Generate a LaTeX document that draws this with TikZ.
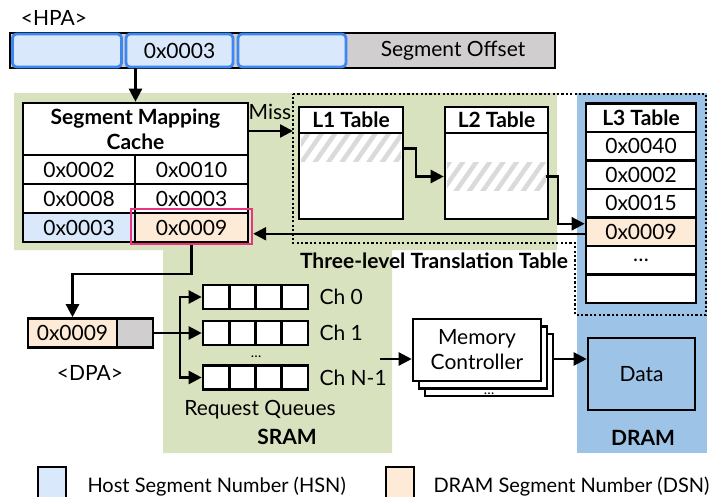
\documentclass[tikz,border=0pt]{standalone}
\usepackage{fontspec}
\setmainfont{Lato}
\usetikzlibrary{arrows.meta,patterns.meta,calc}

\definecolor{hsnfill}{HTML}{DAE8FC}
\definecolor{hsnedge}{HTML}{3C87F0}
\definecolor{dsnfill}{HTML}{FDEBD8}
\definecolor{sramgreen}{HTML}{D9E2BE}
\definecolor{dramblue}{HTML}{9DC3E6}
\definecolor{offsetgray}{HTML}{D0CECE}
\definecolor{hitpink}{HTML}{E8357D}
\definecolor{hatchgray}{HTML}{DADADA}

\begin{document}
\begin{tikzpicture}[x=1pt,y=-1pt,
  font=\fontsize{21}{25}\selectfont,
  cell/.style={draw, line width=2.6pt, fill=white, inner sep=0pt},
  hpaseg/.style={cell, draw=hsnedge, fill=hsnfill, rounded corners=4pt, line width=2.8pt},
  hsn/.style={fill=hsnfill},
  dsn/.style={fill=dsnfill},
  hdr/.style={font=\bfseries\fontsize{21}{25}\selectfont},
  hatch/.style={inner sep=0pt, pattern={Lines[angle=55,distance=11pt,line width=4.5pt]}, pattern color=hatchgray},
  hitbox/.style={draw=hitpink, line width=2.4pt, inner sep=0pt},
  arr/.style={line width=2.4pt, -{Triangle[length=13pt,width=13pt]}},
  link/.style={line width=2.4pt},
  lbl/.style={inner sep=0pt},
  leglbl/.style={inner sep=0pt, anchor=west, font=\fontsize{20}{24}\selectfont},
  region/.style={inner sep=0pt, font=\bfseries\fontsize{21}{25}\selectfont},
  tlt/.style={line width=2.4pt, dash pattern=on 2.2pt off 2.2pt},
  small/.style={inner sep=0pt, font=\fontsize{14}{16}\selectfont}]
\clip (0,0) rectangle (711,497);

% SRAM and DRAM areas
\fill[sramgreen] (14,93) -- (557,93) -- (557,250) -- (392,250) -- (392,453)
  -- (163,453) -- (163,250) -- (14,250) -- cycle;
\fill[dramblue] (577,93) rectangle (707,453);
% outline of the three-level translation table
\draw[tlt] (293,94) -- (706,94) -- (706,315) -- (575,315) -- (575,243) -- (293,243) -- cycle;
\node[region] (tltlbl) at (434,261) {Three-level Translation Table};

% host physical address
\node[lbl] (hpalbl) at (54,18) {<HPA>};
\node[cell, fill=offsetgray, minimum width=545pt, minimum height=35pt] (hpabar) at (282.5,50.5) {};
\node[lbl] (offsetlbl) at (453,50.5) {Segment Offset};
\node[hpaseg, minimum width=109pt, minimum height=33pt] (hpa1) at (67,50.5) {};
\node[hpaseg, minimum width=107pt, minimum height=33pt] (hpa2) at (179.5,50.5) {0x0003};
\node[hpaseg, minimum width=108pt, minimum height=33pt] (hpa3) at (292,50.5) {};

% segment mapping cache
\node[cell, hdr, align=center, minimum width=225pt, minimum height=52pt] (smc) at (135.5,129) {Segment Mapping\\Cache};
\node[cell, minimum width=112pt, minimum height=29pt] (s1k) at (79,169.5) {0x0002};
\node[cell, minimum width=113pt, minimum height=29pt] (s1v) at (191.5,169.5) {0x0010};
\node[cell, minimum width=112pt, minimum height=29pt] (s2k) at (79,198.5) {0x0008};
\node[cell, minimum width=113pt, minimum height=29pt] (s2v) at (191.5,198.5) {0x0003};
\node[cell, hsn, minimum width=112pt, minimum height=29pt] (s3k) at (79,227.5) {0x0003};
\node[cell, dsn, minimum width=113pt, minimum height=29pt] (s3v) at (191.5,227.5) {0x0009};
\node[hitbox, minimum width=121pt, minimum height=35pt] (hit) at (191.5,226.5) {};

\draw[arr] (smc.north |- hpa2.south) -- (smc.north);

% miss path into the translation table
\coordinate (ttlin) at (293,131);
\draw[arr] (smc.east |- ttlin) -- (ttlin);
\node[lbl] (misslbl) at (270,112) {Miss};

% L1 table
\node[cell, minimum width=104pt, minimum height=86pt] (l1b) at (351,176) {};
\node[hatch, minimum width=100pt, minimum height=27pt] (l1e) at (351,148.5) {};
\node[cell, hdr, minimum width=104pt, minimum height=26pt] (l1h) at (351,120) {L1 Table};

% L2 table
\node[cell, minimum width=103pt, minimum height=86pt] (l2b) at (496.5,176) {};
\node[hatch, minimum width=99pt, minimum height=27pt] (l2e) at (496.5,176.5) {};
\node[cell, hdr, minimum width=103pt, minimum height=26pt] (l2h) at (496.5,120) {L2 Table};

% L3 table
\node[cell, hdr, minimum width=110pt, minimum height=28.5pt] (l3h) at (641,118) {L3 Table};
\node[cell, minimum width=110pt, minimum height=28.5pt] (l3r1) at (641,146.25) {0x0040};
\node[cell, minimum width=110pt, minimum height=28.5pt] (l3r2) at (641,174.75) {0x0002};
\node[cell, minimum width=110pt, minimum height=28.5pt] (l3r3) at (641,203.25) {0x0015};
\node[cell, dsn, minimum width=110pt, minimum height=28.5pt] (l3r4) at (641,231.75) {0x0009};
\node[cell, minimum width=110pt, minimum height=28.5pt] (l3r5) at (641,260.25) {\textellipsis};
\node[cell, minimum width=110pt, minimum height=28.5pt] (l3r6) at (641,288.75) {};

\draw[arr] (l1e.east) -- ++(13,0) |- (l2b.west |- l2e.west);
\draw[arr] (l2e.east) -- ++(12,0) |- ([yshift=8pt]l3r4.west);
\draw[arr] ([yshift=-2pt]l3r4.west) -- ([yshift=-2pt]l3r4.west -| hit.east);

% device physical address
\node[cell, dsn, minimum width=89pt, minimum height=29pt] (dpak) at (72.5,333) {0x0009};
\node[cell, fill=offsetgray, minimum width=36pt, minimum height=29pt] (dpao) at (135,333) {};
\node[lbl] (dpalbl) at (90,373) {<DPA>};
\draw[arr] (hit.south) -- ++(0,29) -| (dpak.north);

% request queues
\foreach \r/\y in {0/297, 1/333, n/377.5} {
  \foreach \c/\x in {1/216.1, 2/242.4, 3/268.6, 4/294.9} {
    \node[cell, minimum width=26.25pt, minimum height=24pt] (q\r\c) at (\x,\y) {};
  }
}
\node[lbl, anchor=west] (ch0) at ([xshift=10pt]q04.east) {Ch 0};
\node[lbl, anchor=west] (ch1) at ([xshift=10pt]q14.east) {Ch 1};
\node[lbl, anchor=west] (chn) at ([xshift=10pt]qn4.east) {Ch N-1};
\node[small, anchor=base] (qdots) at (256,357) {\textellipsis};

\coordinate (fork) at (180,333);
\draw[link] (dpao.east) -- (fork);
\draw[arr] (fork) |- (q01.west);
\draw[arr] (fork) -- (q11.west);
\draw[arr] (fork) |- (qn1.west);

\node[lbl] (rqlbl) at (260,410) {Request Queues};
\node[region] (sramlbl) at (287,437) {SRAM};

% memory controllers
\node[cell, minimum width=128pt, minimum height=62pt] (mc3) at (489,365) {};
\node[cell, minimum width=128pt, minimum height=62pt] (mc2) at (483,357.5) {};
\node[cell, align=center, minimum width=128pt, minimum height=62pt] (mc) at (477,350) {Memory\\Controller};
\node[small, anchor=base] (mcdots) at (489,394) {\textellipsis};

\coordinate (qout) at (380,359);
\draw[arr] (qout) -- (qout -| mc.west);

% DRAM data
\node[cell, fill=dramblue, minimum width=107pt, minimum height=72pt] (data) at (641.5,374) {Data};
\draw[arr] (qout -| mc3.east) -- (qout -| data.west);
\node[region] (dramlbl) at (643,438) {DRAM};

% legend
\node[cell, hsn, minimum width=28pt, minimum height=40pt] (leghsn) at (52,487) {};
\node[leglbl] (leghsnlbl) at ([xshift=20pt]leghsn.east) {Host Segment Number (HSN)};
\node[cell, dsn, minimum width=28pt, minimum height=40pt] (legdsn) at (400,487) {};
\node[leglbl] (legdsnlbl) at ([xshift=18pt]legdsn.east) {DRAM Segment Number (DSN)};
\end{tikzpicture}
\end{document}
